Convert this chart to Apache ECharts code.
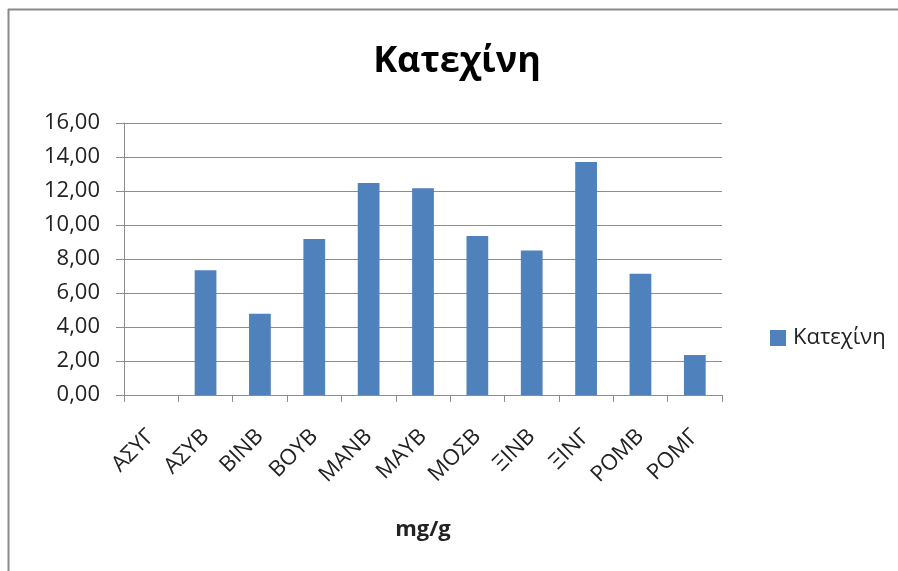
<!DOCTYPE html>
<html>
<head>
<meta charset="utf-8">
<script src="https://cdn.jsdelivr.net/npm/echarts@6/dist/echarts.min.js"></script>
<style>
  html, body { margin: 0; padding: 0; background: #ffffff; }
  #chart { width: 898px; height: 571px; }
</style>
</head>
<body>
<div id="chart"></div>
<script>
// Catechin content per sample (mg/g)
const categories = ['ΑΣΥΓ', 'ΑΣΥΒ', 'ΒΙΝΒ', 'ΒΟΥΒ', 'ΜΑΝΒ', 'ΜΑΥΒ', 'ΜΟΣΒ', 'ΞΙΝΒ', 'ΞΙΝΓ', 'ΡΟΜΒ', 'ΡΟΜΓ'];
const catechin = [0, 7.34, 4.78, 9.18, 12.47, 12.16, 9.36, 8.50, 13.71, 7.13, 2.35];
const seriesName = 'Κατεχίνη';
const chartTitle = 'Κατεχίνη';
const xAxisTitle = 'mg/g';
const yMin = 0, yMax = 16, yStep = 2;

const chart = echarts.init(document.getElementById('chart'));
const font = '"Open Sans", "DejaVu Sans", sans-serif';

chart.setOption({
  backgroundColor: '#ffffff',
  animation: false,
  title: {
    text: chartTitle,
    left: 452,
    top: 39,
    textAlign: 'center',
    textStyle: { fontFamily: font, fontWeight: 'bold', fontSize: 36, color: '#000000' }
  },
  legend: {
    data: [seriesName],
    left: 765,
    top: 322,
    itemWidth: 16,
    itemHeight: 16,
    itemGap: 6,
    icon: 'rect',
    textStyle: { fontFamily: font, fontSize: 22, color: '#222222', padding: [0, 0, 0, 2] }
  },
  grid: { left: 124, right: 176, top: 123, bottom: 176, containLabel: false },
  xAxis: {
    type: 'category',
    data: categories,
    name: xAxisTitle,
    nameLocation: 'middle',
    nameGap: 124,
    nameTextStyle: { fontFamily: font, fontSize: 22, fontWeight: 'bold', color: '#222222' },
    axisLine: { lineStyle: { color: '#8c8c8c', width: 1 } },
    axisTick: { show: true, alignWithLabel: false, length: 7, lineStyle: { color: '#8c8c8c' } },
    axisLabel: {
      interval: 0,
      rotate: 45,
      margin: 38,
      fontFamily: font,
      fontSize: 22,
      color: '#222222'
    }
  },
  yAxis: {
    type: 'value',
    min: yMin,
    max: yMax,
    interval: yStep,
    axisLine: { show: true, lineStyle: { color: '#8c8c8c' } },
    axisTick: { show: true, length: 8, inside: false, lineStyle: { color: '#8c8c8c' } },
    splitLine: { lineStyle: { color: '#8c8c8c', width: 1 } },
    axisLabel: {
      margin: 24,
      fontFamily: font,
      fontSize: 22,
      color: '#222222',
      formatter: v => v.toFixed(2).replace('.', ',')
    }
  },
  series: [{
    name: seriesName,
    type: 'bar',
    data: catechin,
    barWidth: '40%',
    itemStyle: { color: '#4f81bd' }
  }],
  graphic: [
    { type: 'line', shape: { x1: 8, y1: 9.5, x2: 898, y2: 9.5 }, style: { stroke: '#8a8a8a', lineWidth: 2 } },
    { type: 'line', shape: { x1: 8.5, y1: 9, x2: 8.5, y2: 571 }, style: { stroke: '#8a8a8a', lineWidth: 2 } }
  ]
});
</script>
</body>
</html>
